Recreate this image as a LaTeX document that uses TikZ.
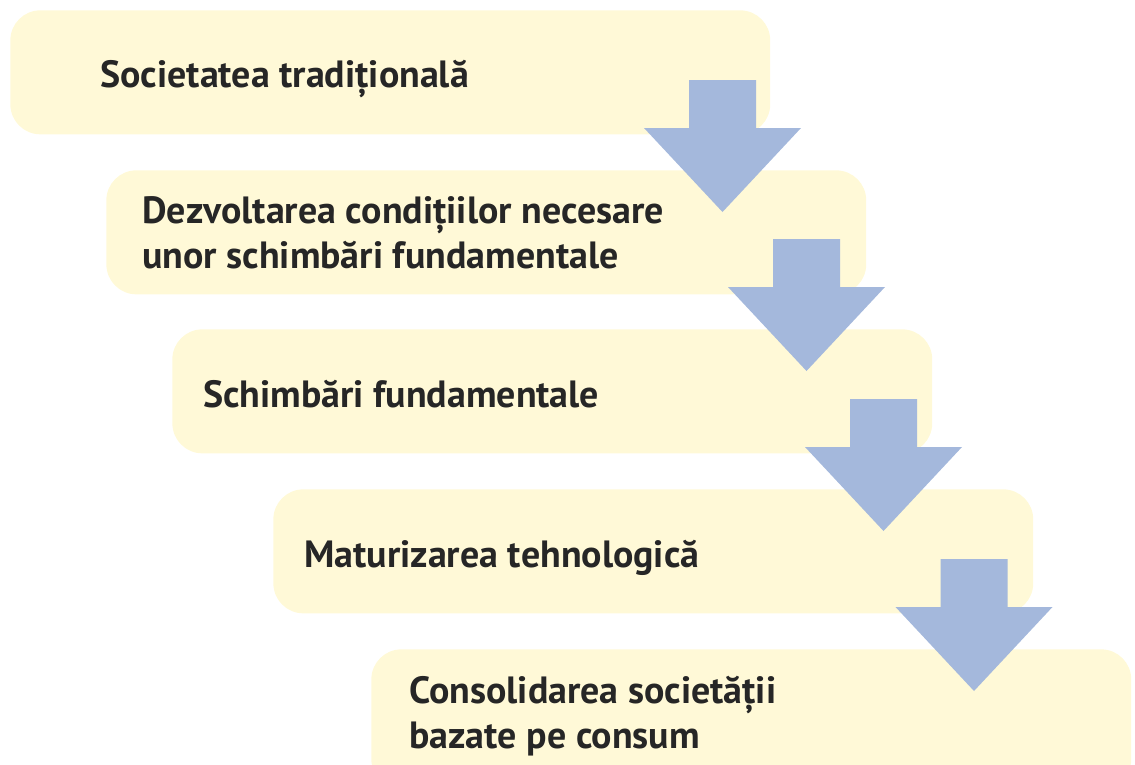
\documentclass[tikz,border=0pt]{standalone}
\usepackage{fontspec}
\setmainfont{PT Sans}
\definecolor{stagefill}{RGB}{255,249,215}
\definecolor{flowblue}{RGB}{164,184,220}

\begin{document}
\begin{tikzpicture}[x=0.02cm, y=-0.02cm,
    stage/.style ={fill=stagefill, rounded corners=0.6cm, anchor=north west,
                   minimum width=15.2cm, minimum height=2.48cm, inner sep=0pt},
    caption/.style ={anchor=base west, align=left, inner sep=0pt, text=black!85,
                   font=\bfseries\fontsize{21.6}{25.6}\selectfont},
    flow/.style ={fill=flowblue}]
   \useasboundingbox (0,0) rectangle (1135,764);
   % stages
   \node[stage] (s1) at (10,10)  {};
   \node[stage] (s2) at (106,170) {};
   \node[stage] (s3) at (172,329) {};
   \node[stage] (s4) at (273,489) {};
   \node[stage, minimum height=2.8cm] (s5) at (371,649) {};
   % arrows between the stages
   \foreach \x/\y in {722.5/80, 806.5/239, 883.5/399, 974/559}
      \fill[flow] (\x,\y) ++(-33.5,0) -- ++(67,0) -- ++(0,48) -- ++(45,0)
         -- ++(-78.5,84) -- ++(-78.5,-84) -- ++(45,0) -- cycle;
   % texts (base = last line)
   \node[caption] (t1) at (100,87)  {Societatea tradițională};
   \node[caption] (t2) at (142,268) {Dezvoltarea condițiilor necesare\\unor schimbări fundamentale};
   \node[caption] (t3) at (203,407) {Schimbări fundamentale};
   \node[caption] (t4) at (304,567) {Maturizarea tehnologică};
   \node[caption] (t5) at (409,748) {Consolidarea societății\\bazate pe consum};
\end{tikzpicture}
\end{document}
